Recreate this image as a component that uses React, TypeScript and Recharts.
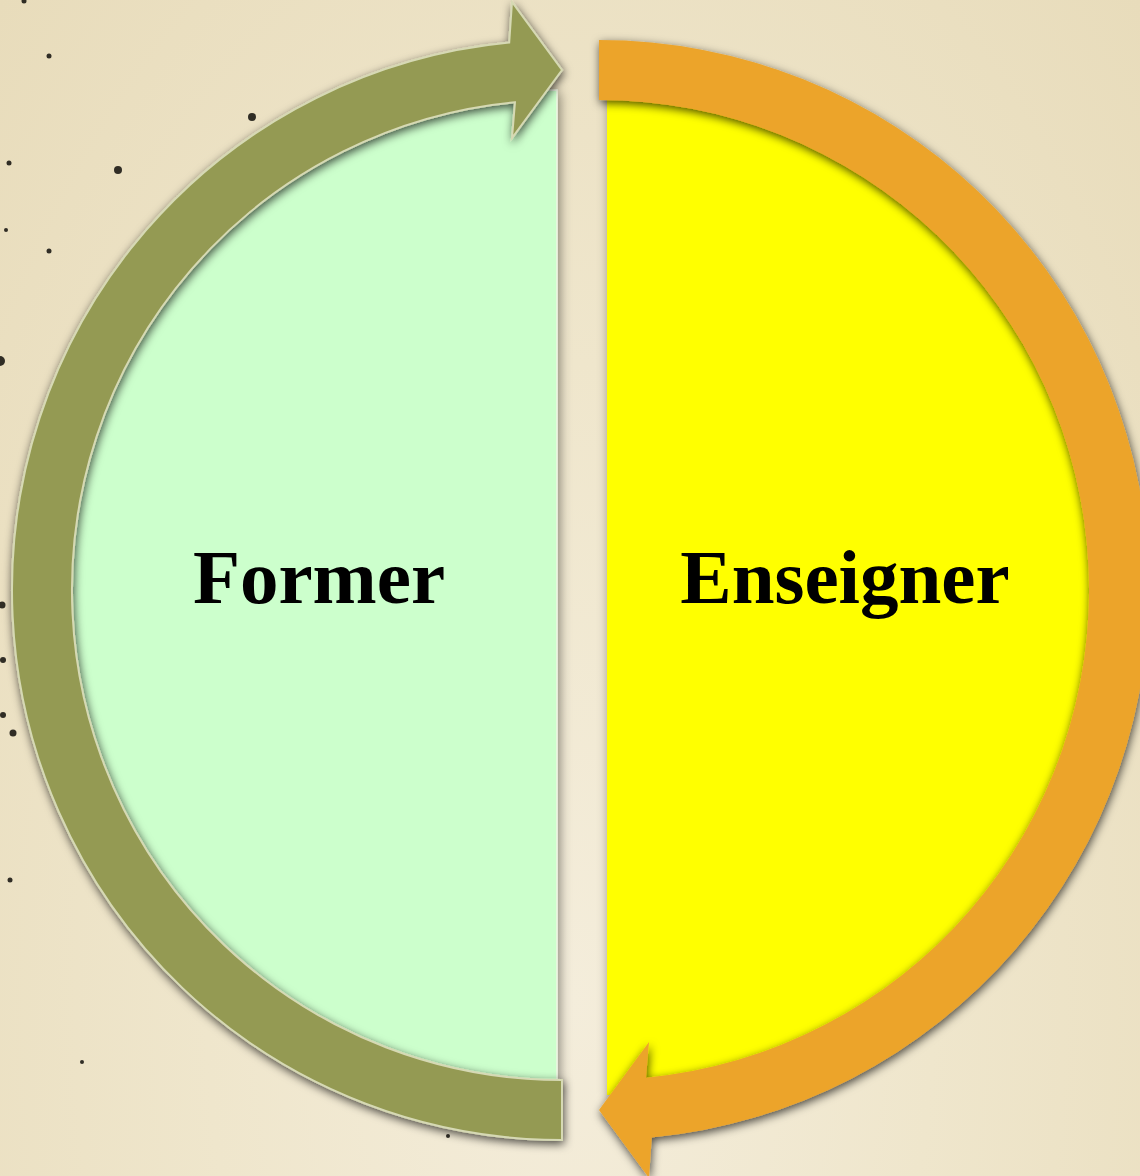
import { PieChart, Pie, Cell } from "recharts";

// two halves of the cycle, one arrow each
const PHASES = ["Former", "Enseigner"];
const PHASE_SHARE = [1, 1];

const W = 1140;
const H = 1176;
const CY = 590;
const RING_IN = 490;
const RING_OUT = 550;
const HEAD_HALF = 68;
const HEAD_LEN = 50;
const LABEL_R = 238;

const RAD = Math.PI / 180;

// little ink specks on the paper (decoration only)
const SPECKS: [number, number, number][] = [
  [49, 56, 2.5], [252, 117, 4], [118, 170, 4], [9, 163, 2.5], [49, 251, 2.5],
  [6, 230, 2], [24, 1, 2.5], [0, 361, 5], [2, 605, 3.5], [3, 660, 3], [3, 715, 3],
  [13, 733, 3.5], [10, 880, 2.5], [82, 1062, 2], [448, 1136, 2],
];

function polar(cx: number, cy: number, r: number, a: number) {
  return [cx + r * Math.cos(-a * RAD), cy + r * Math.sin(-a * RAD)];
}

function ArrowRing(props: any) {
  const { cx, cy, innerRadius, outerRadius, startAngle, endAngle, color, outline } = props;
  const dir = endAngle > startAngle ? 1 : -1;
  const mid = (innerRadius + outerRadius) / 2;
  const back = endAngle - dir * (HEAD_LEN / mid / RAD);
  const sweepOut = dir < 0 ? 1 : 0;
  const sweepIn = 1 - sweepOut;
  const large = Math.abs(back - startAngle) > 180 ? 1 : 0;
  // head is a straight triangle laid along the tangent at the tip
  const [tx, ty] = polar(cx, cy, mid, endAngle);
  const ux = Math.cos(-endAngle * RAD);
  const uy = Math.sin(-endAngle * RAD);
  // tangent pointing in the direction of travel
  const vx = dir < 0 ? -uy : uy;
  const vy = dir < 0 ? ux : -ux;
  const bx = tx - vx * HEAD_LEN;
  const by = ty - vy * HEAD_LEN;
  const f = (x: number, y: number) => `${x.toFixed(2)},${y.toFixed(2)}`;
  const p = (r: number, a: number) => polar(cx, cy, r, a).map((v) => v.toFixed(2)).join(",");
  const d = [
    `M${p(outerRadius, startAngle)}`,
    `A${outerRadius},${outerRadius} 0 ${large} ${sweepOut} ${p(outerRadius, back)}`,
    `L${f(bx + ux * HEAD_HALF, by + uy * HEAD_HALF)}`,
    `L${f(tx, ty)}`,
    `L${f(bx - ux * HEAD_HALF, by - uy * HEAD_HALF)}`,
    `L${p(innerRadius, back)}`,
    `A${innerRadius},${innerRadius} 0 ${large} ${sweepIn} ${p(innerRadius, startAngle)}`,
    "Z",
  ].join(" ");
  return (
    <path
      d={d}
      fill={color}
      stroke={outline}
      strokeWidth={outline === "none" ? 0 : 2}
      filter="url(#ringShadow)"
    />
  );
}

function PhaseLabel(props: any) {
  const { cx, cy, midAngle, index, phase } = props;
  const x = cx + LABEL_R * Math.cos(-midAngle * RAD);
  return (
    <text
      x={x}
      y={cy + 13}
      textAnchor="middle"
      fill="#000"
      style={{ fontFamily: "'Liberation Serif', serif", fontWeight: 700, fontSize: 77 }}
    >
      {PHASES[phase ?? index]}
    </text>
  );
}

export default function App() {
  const left = [{ name: PHASES[0], value: PHASE_SHARE[0] }];
  const right = [{ name: PHASES[1], value: PHASE_SHARE[1] }];

  return (
    <div
      style={{
        position: "relative",
        width: W,
        height: H,
        overflow: "hidden",
        background:
          "radial-gradient(ellipse at 50% 85%, #f4eddb 0%, #efe6cc 45%, #e8dcbb 100%)",
      }}
    >
      <style>{"body{margin:0} .fill-shadow .recharts-sector{filter:url(#ds)}"}</style>
      <svg width={W} height={H} style={{ position: "absolute", left: 0, top: 0 }}>
        {SPECKS.map(([x, y, r], i) => (
          <circle key={i} cx={x} cy={y} r={r} fill="#1c1a14" opacity={0.9} />
        ))}
      </svg>
      <div style={{ position: "absolute", left: 0, top: 0 }}>
        <PieChart width={W} height={H} margin={{ top: 0, right: 0, bottom: 0, left: 0 }}>
          <defs>
            <filter id="ds" x="-20%" y="-20%" width="140%" height="140%">
              <feDropShadow dx="2" dy="3" stdDeviation="6" floodColor="#000" floodOpacity="0.45" />
            </filter>
            <filter id="ringShadow" x="-20%" y="-20%" width="140%" height="140%">
              <feDropShadow dx="1" dy="3" stdDeviation="5" floodColor="#000" floodOpacity="0.7" />
            </filter>
          </defs>
          <Pie
            data={left}
            dataKey="value"
            cx={557}
            cy={CY}
            innerRadius={0}
            outerRadius={500}
            startAngle={90}
            endAngle={270}
            className="fill-shadow"
            stroke="#eef6e4"
            strokeWidth={1.5}
            labelLine={false}
            label={(p: any) => <PhaseLabel {...p} phase={0} />}
            isAnimationActive={false}
          >
            <Cell fill="#ccffcc" />
          </Pie>
          <Pie
            data={right}
            dataKey="value"
            cx={607}
            cy={CY}
            innerRadius={0}
            outerRadius={505}
            startAngle={90}
            endAngle={-90}
            className="fill-shadow"
            stroke="none"
            labelLine={false}
            label={(p: any) => <PhaseLabel {...p} phase={1} />}
            isAnimationActive={false}
          >
            <Cell fill="#ffff00" />
          </Pie>
          <Pie
            data={right}
            dataKey="value"
            cx={599}
            cy={CY}
            innerRadius={RING_IN}
            outerRadius={RING_OUT}
            startAngle={90}
            endAngle={-90}
            fill="none"
            stroke="none"
            labelLine={false}
            label={(p: any) => <ArrowRing {...p} color="#eca42c" outline="none" />}
            isAnimationActive={false}
          />
          <Pie
            data={left}
            dataKey="value"
            cx={562}
            cy={CY}
            innerRadius={RING_IN}
            outerRadius={RING_OUT}
            startAngle={270}
            endAngle={90}
            fill="none"
            stroke="none"
            labelLine={false}
            label={(p: any) => <ArrowRing {...p} color="#949a53" outline="#d6d9b4" />}
            isAnimationActive={false}
          />
        </PieChart>
      </div>
    </div>
  );
}
